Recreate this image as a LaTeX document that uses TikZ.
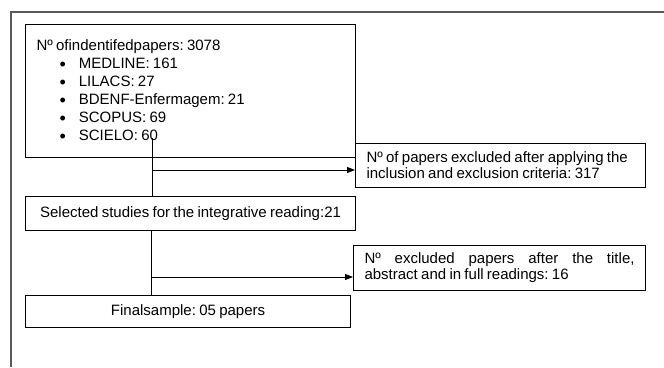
\documentclass[tikz,border=0pt]{standalone}
\usepackage{fontspec}
\setmainfont{Liberation Sans}
\usetikzlibrary{arrows.meta}
\frenchspacing
\newcommand{\tightsp}{\spaceskip=3.3pt plus 4pt minus 0.5pt\relax}
\newcommand{\dbitem}{\hspace*{23pt}\raisebox{-1.3pt}{\fontsize{18}{18}\selectfont•}\hspace*{13pt}}

\begin{document}
\begin{tikzpicture}[x=1pt, y=-1pt,
  box/.style={draw=black, line width=1.1pt, anchor=north west, inner xsep=11pt, inner ysep=0pt, font=\fontsize{15}{18}\selectfont},
  link/.style={line width=0.8pt},
  arr/.style={line width=0.8pt, -{Triangle[length=8pt,width=6pt]}}]
\useasboundingbox (0,0) rectangle (664,367);
\draw[line width=1.4pt, black!65] (11,367) -- (11,12) -- (664,12);
\node[box, minimum width=330pt, minimum height=133pt, text width=308pt, align=left] (found) at (25,24) {\tightsp Nº ofindentifedpapers: 3078\\
\dbitem MEDLINE: 161\\
\dbitem LILACS: 27\\
\dbitem BDENF-Enfermagem: 21\\
\dbitem SCOPUS: 69\\
\dbitem SCIELO: 60};
\node[box, minimum height=44pt, text width=274pt, inner xsep=8pt, align=left, font=\fontsize{15}{16}\selectfont] (excl1) at (355,143) {\tightsp\hspace*{3pt}Nº of papers excluded after applying the\\\hspace*{3pt}inclusion and exclusion criteria: 317};
\node[box, minimum height=34pt, minimum width=330pt, align=center] (sel) at (25,196) {\tightsp Selected studies for the integrative reading:21};
\node[box, minimum height=45pt, text width=270pt, align=justify, font=\fontsize{15}{16}\selectfont] (excl2) at (353,245) {\tightsp Nº excluded papers after the title,\linebreak abstract and in full readings: 16};
\node[box, minimum height=32pt, minimum width=325pt, align=center] (final) at (25,295) {\tightsp Finalsample: 05 papers};
% connectors
\coordinate (s1) at (152,138);
\coordinate (j1) at (152,170);
\coordinate (j2) at (151,277);
\draw[link] (s1) -- (s1 |- sel.north);
\draw[arr] (j1) -- (j1 -| excl1.west);
\draw[link] (j2 |- sel.south) -- (j2 |- final.north);
\draw[arr] (j2) -- (j2 -| excl2.west);
\end{tikzpicture}
\end{document}
